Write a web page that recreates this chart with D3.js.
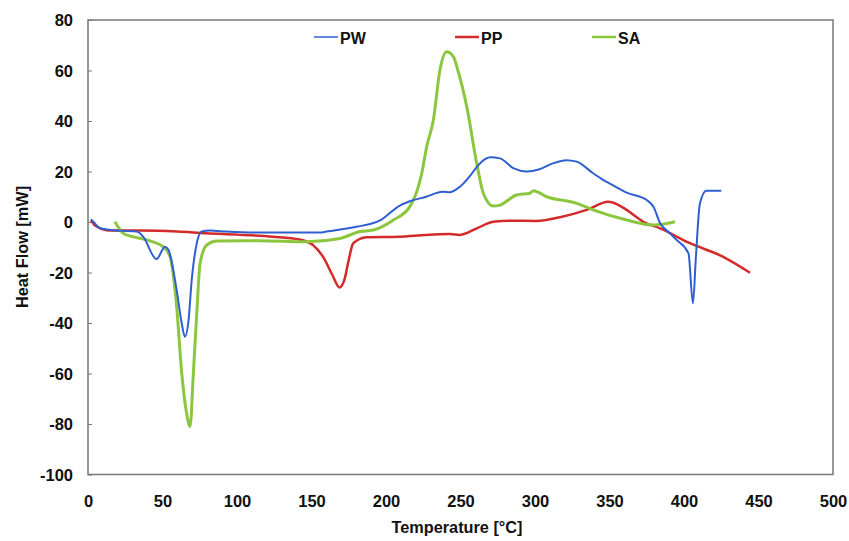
<!DOCTYPE html>
<html><head><meta charset="utf-8">
<script src="https://cdn.jsdelivr.net/npm/d3@7"></script>
<style>body{margin:0;background:#fff}svg text{font-family:"Liberation Sans",Arial,sans-serif;font-weight:bold;fill:#111}</style>
</head><body><svg id="c" width="849" height="541"></svg>
<script>
const xTicks=[0,50,100,150,200,250,300,350,400,450,500];
const yTicks=[-100,-80,-60,-40,-20,0,20,40,60,80];
const seriesNames=["PW","PP","SA"];
const seriesColors=["#2e5fd0","#d42a2a","#8cc63f"];
const pwT=[2,3.6,8,19,32.7,37,46,51.7,54,59.5,62.9,65,67.3,69.6,73,76.3,81.9,93,115,156,160,180,196,209,216,227,238,243,249.7,256,263,270,276.5,285.4,294.4,303,312,321,328,339,346,350,361.5,375,379.4,384,390.6,395,403,406,408,410.7,415,425];
const pwHF=[1,0.1,-2.5,-3.4,-3.8,-5.8,-14.7,-9.8,-11,-26.9,-40.1,-45.4,-40,-23,-8.4,-3.8,-3.4,-3.8,-4.2,-4.2,-3.8,-1.9,0.6,6.4,8.2,10,12,11.8,14,18,23.2,25.6,25.2,21.3,20,20.9,23.2,24.5,23.9,19.3,16.6,15.3,11.6,8.7,6.1,-0.5,-4.5,-7.1,-12.4,-32.2,-13.7,7.4,12.4,12.4];
const ppT=[2,5,14.8,35,60,79.6,100,124,142,151,158,164,168.7,172,175,178,187,209,227,243,249.7,261,272,283,301,316.8,334.7,349.2,354.8,361.5,372.7,384,404,426,444.3];
const ppHF=[0.8,-1.5,-3.4,-3.4,-3.8,-4.5,-5,-5.8,-6.9,-9.1,-14,-21,-25.9,-23,-15,-8.4,-6,-5.8,-5.1,-4.8,-5.1,-2.5,0.1,0.5,0.4,1.9,4.8,8,7.1,4.8,0.1,-2.5,-8.4,-13.7,-20.1];
const saT=[18,23.7,28,39.4,50.5,55,59.5,62.9,66.2,68.5,70.7,73,75.2,79.7,86.4,115,146.8,169,182.6,191.5,205,216,221.7,224,227.3,231.8,236.2,240.7,245.2,248.5,254.2,260.9,265.3,272,276.5,287.7,296.6,298.9,307.8,328,339,361.5,379.4,394];
const saHF=[0.1,-4.5,-5.5,-7.1,-9.8,-13.7,-33.5,-59.9,-75.8,-81,-59.9,-36.2,-16.4,-9.1,-7.5,-7.4,-7.8,-6.5,-3.8,-3.2,0.8,6.1,14,19.3,29.8,40.4,60.2,67.4,65.5,59.5,45.7,23.2,11.4,6.3,6.7,10.7,11.4,12.4,10,7.4,4.8,0.8,-1.2,0.1];

const svg=d3.select("#c");
const L=88,R=833,T=20,B=474.5;
const x=d3.scaleLinear().domain([0,500]).range([L,R]);
const y=d3.scaleLinear().domain([-100,80]).range([B,T]);

svg.append("rect").attr("x",L).attr("y",T).attr("width",R-L).attr("height",B-T)
 .attr("fill","none").attr("stroke","#777").attr("stroke-width",1.5);

const ya=svg.append("g").attr("transform",`translate(${L},0)`)
 .call(d3.axisRight(y).tickValues(yTicks).tickSize(4).tickFormat(d=>String(d)));
ya.select(".domain").remove();
ya.selectAll("line").attr("stroke","#777");
ya.selectAll("text").attr("x",-15).attr("text-anchor","end").attr("font-size",16.5).attr("dy","0.35em");

const xa=svg.append("g").attr("transform",`translate(0,${B})`)
 .call(d3.axisBottom(x).tickValues(xTicks).tickSize(0).tickFormat(d=>String(d)));
xa.select(".domain").remove();
xa.selectAll("text").attr("y",32).attr("dy","0").attr("font-size",16.5);

svg.append("text").attr("x",457).attr("y",533).attr("text-anchor","middle").attr("font-size",16.3).text("Temperature [°C]");
svg.append("text").attr("transform","translate(28,247) rotate(-90)").attr("text-anchor","middle").attr("font-size",16.3).text("Heat Flow [mW]");

const line=d3.line().x(d=>x(d[0])).y(d=>y(d[1])).curve(d3.curveMonotoneX);
const data=[d3.zip(pwT,pwHF),d3.zip(ppT,ppHF),d3.zip(saT,saHF)];
const widths=[2,2.5,3];
[1,2,0].forEach(i=>{
 svg.append("path").datum(data[i]).attr("d",line).attr("fill","none")
  .attr("stroke",seriesColors[i]).attr("stroke-width",widths[i]).attr("stroke-linejoin","round");
});

const legX=[314,455,592];
seriesNames.forEach((n,i)=>{
 svg.append("line").attr("x1",legX[i]).attr("x2",legX[i]+24).attr("y1",37).attr("y2",37)
  .attr("stroke",seriesColors[i]).attr("stroke-width",i===0?1.5:2.5);
 svg.append("text").attr("x",legX[i]+26).attr("y",43.5).attr("font-size",16).text(n);
});
</script></body></html>
